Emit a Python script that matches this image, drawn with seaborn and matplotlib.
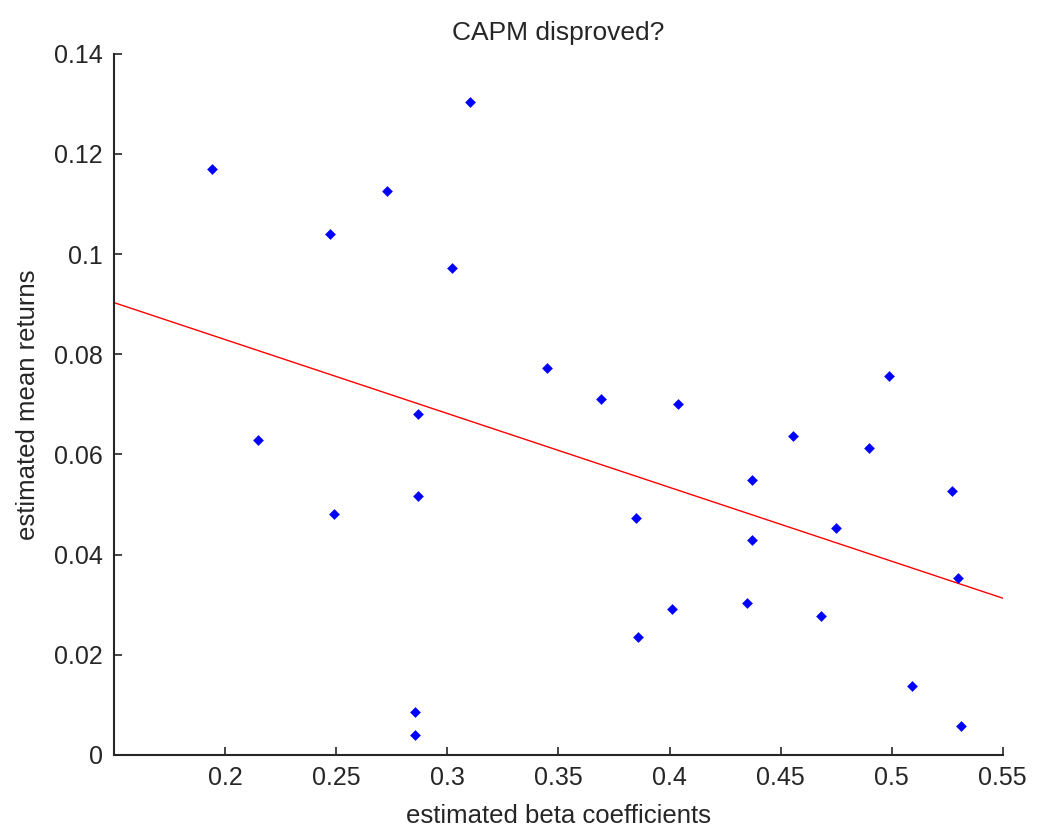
import matplotlib
matplotlib.use("Agg")
import matplotlib.pyplot as plt
import numpy as np
import pandas as pd
import seaborn as sns

# Valores
beta = [0.194, 0.215, 0.247, 0.249, 0.273, 0.2855, 0.2855, 0.287, 0.287,
        0.302, 0.310, 0.345, 0.369, 0.385, 0.386, 0.401, 0.404, 0.435,
        0.437, 0.437, 0.4556, 0.468, 0.475, 0.490, 0.499, 0.509, 0.527,
        0.530, 0.531]
retorno = [0.117, 0.0628, 0.104, 0.0482, 0.1126, 0.004, 0.0086, 0.068, 0.0516,
           0.0972, 0.1304, 0.0772, 0.071, 0.0474, 0.0236, 0.0292, 0.070, 0.0304,
           0.0548, 0.043, 0.0636, 0.0278, 0.0454, 0.0612, 0.0756, 0.0138, 0.0526,
           0.0354, 0.0058]

# Reta ajustada (extremos)
reta_x = [0.15, 0.55]
reta_y = [0.0903, 0.0313]

xticks = [0.2, 0.25, 0.3, 0.35, 0.4, 0.45, 0.5, 0.55]
yticks = [0, 0.02, 0.04, 0.06, 0.08, 0.1, 0.12, 0.14]

sns.set_style("ticks")
plt.rcParams["font.family"] = ["Liberation Sans", "DejaVu Sans"]

df = pd.DataFrame({"beta": beta, "retorno": retorno})

fig = plt.figure(figsize=(10.37, 8.26), dpi=100)
ax = fig.add_axes([0.110, 0.086, 0.857, 0.849])

sns.scatterplot(data=df, x="beta", y="retorno", ax=ax, color="blue",
                marker="D", s=30, linewidth=0, zorder=3)
sns.lineplot(x=reta_x, y=reta_y, ax=ax, color="red", linewidth=1.0)

ax.set_xlim(0.15, 0.55)
ax.set_ylim(0, 0.14)
ax.set_xticks(xticks)
ax.set_xticklabels([f"{t:g}" for t in xticks])
ax.set_yticks(yticks)
ax.set_yticklabels([f"{t:g}" for t in yticks])
ax.tick_params(direction="in", length=6, width=1.2, labelsize=18,
               colors="#262626", pad=8)
for lado in ["top", "right"]:
    ax.spines[lado].set_visible(False)
for lado in ["left", "bottom"]:
    ax.spines[lado].set_linewidth(1.5)
    ax.spines[lado].set_color("#262626")

ax.set_title("CAPM disproved?", fontsize=19, pad=10, color="#262626")
ax.set_xlabel("estimated beta coefficients", fontsize=18.5, labelpad=10, color="#262626")
ax.set_ylabel("estimated mean returns", fontsize=18.5, labelpad=10, color="#262626")

fig.savefig("out.png", dpi=100)
